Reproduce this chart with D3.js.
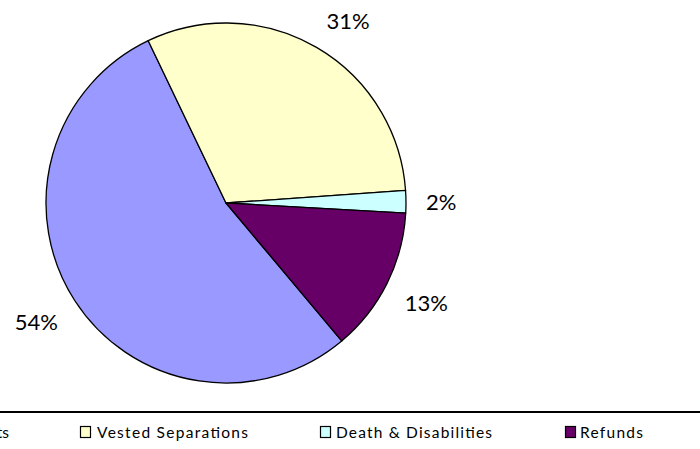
<!DOCTYPE html>
<html>
<head>
<meta charset="utf-8">
<script src="https://cdn.jsdelivr.net/npm/d3@7/dist/d3.min.js"></script>
<style>
  html, body { margin: 0; padding: 0; background: #fff; }
  svg { display: block; }
</style>
</head>
<body>
<svg id="chart" width="700" height="449"></svg>
<script>
// Share of separations by type
const categories = ["Retirements", "Vested Separations", "Death & Disabilities", "Refunds"];
const shares = [54, 31, 2, 13];
const colors = ["#9999FF", "#FFFFCC", "#CCFFFF", "#660066"];

const svg = d3.select("#chart");
const cx = 226, cy = 203, radius = 180;
const firstSliceAngle = 140; // degrees, clockwise from 12 o'clock

const pie = d3.pie()
  .sort(null)
  .value(d => d)
  .startAngle(firstSliceAngle * Math.PI / 180)
  .endAngle(firstSliceAngle * Math.PI / 180 + 2 * Math.PI);

const arcs = pie(shares);
const arc = d3.arc().innerRadius(0).outerRadius(radius);

const g = svg.append("g").attr("transform", `translate(${cx},${cy})`);

g.selectAll("path.slice")
  .data(arcs)
  .join("path")
  .attr("class", "slice")
  .attr("d", arc)
  .attr("fill", (d, i) => colors[i])
  .attr("stroke", "#000")
  .attr("stroke-width", 1.3)
  .attr("stroke-linejoin", "round");

// Percentage labels: the label box's nearest corner sits on a ring just outside the pie
const labelR = 200, halfH = 10;
const clamp = v => Math.max(-1, Math.min(1, v));
const labels = g.selectAll("text.pct")
  .data(arcs)
  .join("text")
  .attr("class", "pct")
  .attr("text-anchor", "middle")
  .attr("dominant-baseline", "central")
  .attr("font-family", "Lato, 'Open Sans', sans-serif")
  .attr("font-size", 22)
  .attr("fill", "#000")
  .text(d => d.value + "%");

labels.each(function(d) {
  const a = (d.startAngle + d.endAngle) / 2;
  const s = Math.sin(a), c = Math.cos(a);
  const halfW = this.getComputedTextLength() / 2;
  d3.select(this)
    .attr("x", labelR * s + halfW * clamp(s * 3))
    .attr("y", -labelR * c - halfH * clamp(c * 3));
});

// Legend (the strip is wider than the page; its first entry runs off the left edge)
svg.append("line")
  .attr("x1", 0).attr("x2", 700)
  .attr("y1", 412).attr("y2", 412)
  .attr("stroke", "#000")
  .attr("stroke-width", 2);

const legendItems = [
  { swatch: -95, textEnd: 9, textLen: null },
  { swatch: 80, textStart: 97, textLen: 151 },
  { swatch: 320, textStart: 336, textLen: 156 },
  { swatch: 565, textStart: 580, textLen: 63 }
];
const legendY = 432;

const lg = svg.append("g");
lg.selectAll("rect")
  .data(categories)
  .join("rect")
  .attr("x", (d, i) => legendItems[i].swatch + 0.5)
  .attr("y", legendY - 5.5)
  .attr("width", 10)
  .attr("height", 11)
  .attr("fill", (d, i) => colors[i])
  .attr("stroke", "#000")
  .attr("stroke-width", 1.2);

lg.selectAll("text")
  .data(categories)
  .join("text")
  .attr("x", (d, i) => legendItems[i].textLen ? legendItems[i].textStart : legendItems[i].textEnd)
  .attr("y", legendY)
  .attr("text-anchor", (d, i) => legendItems[i].textLen ? "start" : "end")
  .attr("dominant-baseline", "central")
  .attr("font-family", "Lato, 'Open Sans', sans-serif")
  .attr("font-size", 15.5)
  .attr("fill", "#000")
  .each(function(d, i) {
    if (legendItems[i].textLen) {
      d3.select(this)
        .attr("textLength", legendItems[i].textLen)
        .attr("lengthAdjust", "spacing");
    }
  })
  .text(d => d);
</script>
</body>
</html>
